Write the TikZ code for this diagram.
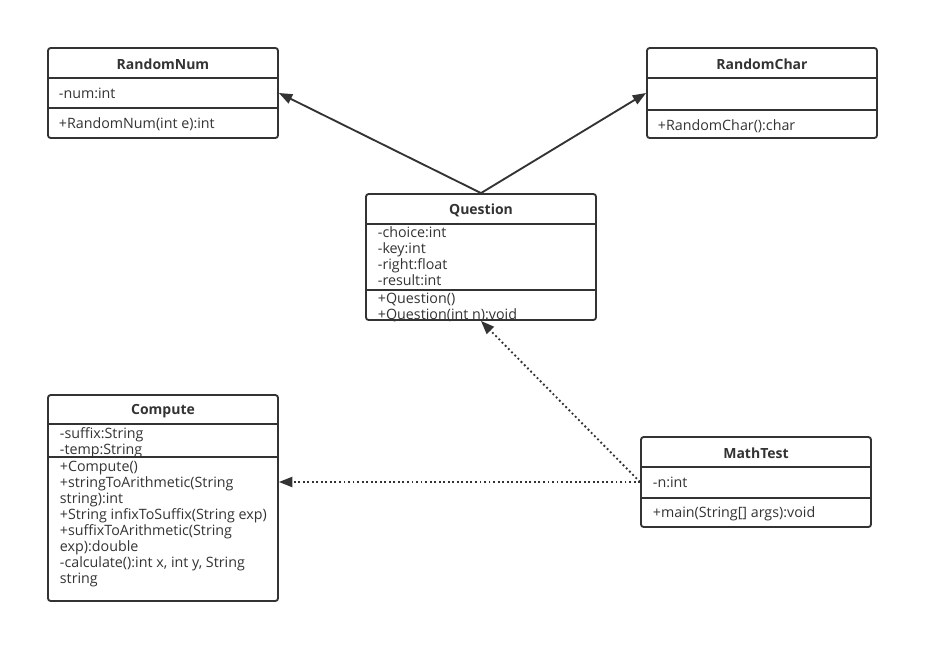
\documentclass[tikz,border=0pt]{standalone}
\usepackage{fontspec}
\setmainfont{Open Sans}
\usetikzlibrary{arrows.meta}

\begin{document}
\begin{tikzpicture}[x=0.75pt,y=-0.75pt,line width=1.4pt,color=black!80,
  cls/.style={draw,rounded corners=2pt,inner sep=0pt,minimum width=172.5pt},
  ttl/.style={inner sep=0pt,font=\bfseries\fontsize{10.5}{12}\selectfont},
  txt/.style={anchor=west,inner sep=0pt,font=\fontsize{10.7}{12}\selectfont,
    text height=9pt,text depth=1pt},
  inh/.style={-{Triangle[length=10pt,width=7.5pt]}},
  dep/.style={dotted,-{Triangle[length=10pt,width=7.5pt]}}]
  \useasboundingbox (0,0) rectangle (939,662);

  % RandomNum
  \node (rnum) [cls,minimum height=67.5pt] at (163,93) {};
  \node (rnumt) [ttl] at (163,64.5) {RandomNum};
  \draw (rnum.west |- 0,78) -- (rnum.east |- 0,78);
  \draw (rnum.west |- 0,108) -- (rnum.east |- 0,108);
  \node (rnuma) [txt] at (58,93) {-num:int};
  \node (rnumm) [txt] at (58,123) {+RandomNum(int e):int};

  % RandomChar
  \node (rchar) [cls,minimum height=67.5pt] at (762,93) {};
  \node (rchart) [ttl] at (762,64.5) {RandomChar};
  \draw (rchar.west |- 0,78) -- (rchar.east |- 0,78);
  \draw (rchar.west |- 0,110) -- (rchar.east |- 0,110);
  \node (rcharm) [txt] at (657,125) {+RandomChar():char};

  % Question
  \node (qst) [cls,minimum height=94.5pt] at (481,257) {};
  \node (qstt) [ttl] at (481,210.5) {Question};
  \draw (qst.west |- 0,224) -- (qst.east |- 0,224);
  \draw (qst.west |- 0,290) -- (qst.east |- 0,290);
  \foreach \t [count=\i] in {-choice:int,-key:int,-right:float,-result:int}
    \node (qa\i) [txt] at (377,216+16*\i) {\t};
  \foreach \t [count=\i] in {+Question(),+Question(int n):void}
    \node (qm\i) [txt] at (377,282+16*\i) {\t};

  % Compute
  \node (cmp) [cls,minimum height=154.5pt] at (163,498) {};
  \node (cmpt) [ttl] at (163,411.5) {Compute};
  \draw (cmp.west |- 0,424) -- (cmp.east |- 0,424);
  \draw (cmp.west |- 0,457) -- (cmp.east |- 0,457);
  \foreach \t [count=\i] in {-suffix:String,-temp:String}
    \node (ca\i) [txt] at (59,417+16*\i) {\t};
  \foreach \t [count=\i] in {+Compute(),+stringToArithmetic(String,string):int,
      +String infixToSuffix(String exp),+suffixToArithmetic(String,exp):double,
      {-calculate():int x, int y, String},string}
    \node (cm\i) [txt] at (59,450+16*\i) {\t};

  % MathTest
  \node (mtest) [cls,minimum height=67.5pt] at (756,482) {};
  \node (mtestt) [ttl] at (756,453.5) {MathTest};
  \draw (mtest.west |- 0,467) -- (mtest.east |- 0,467);
  \draw (mtest.west |- 0,498) -- (mtest.east |- 0,498);
  \node (mtesta) [txt] at (652,482) {-n:int};
  \node (mtestm) [txt] at (652,512) {+main(String[] args):void};

  % relations
  \draw[inh] (qst.north) -- (rnum.east);
  \draw[inh] (qst.north) -- (rchar.west);
  \draw[dep] (mtest.west) -- (qst.south);
  \draw[dep] (mtest.west) -- (mtest.west -| cmp.east);
\end{tikzpicture}
\end{document}
